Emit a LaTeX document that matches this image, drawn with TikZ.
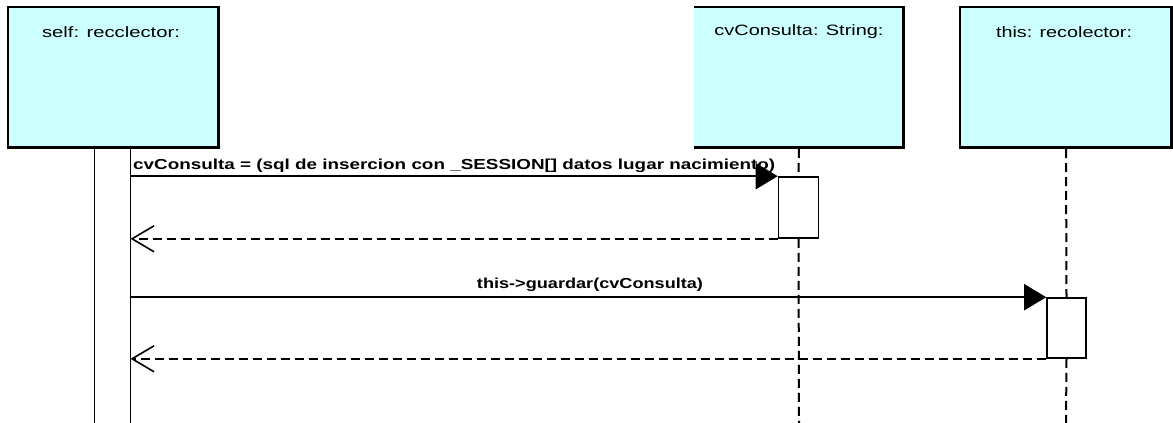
\documentclass[tikz,border=0pt]{standalone}
\usepackage{fontspec}
\setmainfont{Liberation Sans}
\usetikzlibrary{arrows.meta}
\definecolor{headfill}{HTML}{CCFFFF}
% fit a text to a given width, keeping its height
\newcommand\fitto[2]{\resizebox{#1}{\height}{#2}}
\begin{document}
\begin{tikzpicture}[x=1pt,y=-1pt,
  actbar/.style={draw=black,line width=1.6pt,fill=white,inner sep=0pt,minimum width=0pt},
  lifeline/.style={line width=2pt,dash pattern=on 9pt off 5pt},
  call/.style={line width=2pt,-{Triangle[length=22pt,width=26pt]}},
  reply/.style={line width=2pt,dash pattern=on 9pt off 5pt,-{Straight Barb[length=22pt,width=26pt,line width=1.6pt]}},
  headtxt/.style={font=\fontsize{15}{17}\selectfont,inner sep=0pt},
  msgtxt/.style={font=\fontsize{14.5}{16}\selectfont\bfseries,inner sep=0pt}]
\useasboundingbox (0,0) rectangle (1173,423);
\fill[white] (0,0) rectangle (1173,423);

% object heads (right and bottom edges carry a small shadow)
\fill[headfill] (8,7) rectangle (218,146);
\draw[line width=2pt] (8,146) -- (8,7) -- (218,7);
\draw[line width=3.5pt] (218.5,6) -- (218.5,147.5) -- (7,147.5);
\coordinate (h1) at (113,147);

\fill[headfill] (694,7) rectangle (903,146);
\draw[line width=2pt] (694,7) -- (903,7);
\draw[line width=3.5pt] (903.5,6) -- (903.5,147.5) -- (694,147.5);
\coordinate (h2) at (799,149);

\fill[headfill] (960,7) rectangle (1171,146);
\draw[line width=2pt] (960,146) -- (960,7) -- (1171,7);
\draw[line width=3.5pt] (1171.5,6) -- (1171.5,147.5) -- (959,147.5);
\coordinate (h3) at (1066,149);

\node[headtxt] (t1) at (111,32) {\fitto{138pt}{self: recclector:}};
\node[headtxt] (t2) at (799,32) {\fitto{169pt}{cvConsulta: String:}};
\node[headtxt] (t3) at (1064,32) {\fitto{136pt}{this: recolector:}};

% activation bars
\draw[line width=1.8pt] (94.5,149) -- (94.5,423) (130.5,149) -- (130.5,423);
\coordinate (a1top) at (130.5,149);
\node[actbar,minimum width=40pt,minimum height=61pt] (a2) at (798.5,207.5) {};
\node[actbar,minimum width=39pt,minimum height=60pt] (a3) at (1066.5,328) {};

% lifelines
\coordinate (e2) at (799,423);
\coordinate (e3) at (1066,423);
\draw[lifeline] (h2) -- (a2.north);
\draw[lifeline] (a2.south) -- (e2);
\draw[lifeline] (h3) -- (a3.north);
\draw[lifeline] (a3.south) -- (e3);

% messages
\draw[call] (a1top |- a2.north west) -- (a2.north west);
\draw[reply] (a2.south west) -- (a1top |- a2.south west);
\draw[call] (a1top |- a3.north west) -- (a3.north west);
\draw[reply] (a3.south west) -- (a1top |- a3.south west);

\node[msgtxt,anchor=base west] (m1) at (133,169)
  {\fitto{642pt}{cvConsulta = (sql de insercion con \_SESSION[] datos lugar nacimiento)}};
\node[msgtxt,anchor=base] (m2) at (590,288) {\fitto{226pt}{this->guardar(cvConsulta)}};
\end{tikzpicture}
\end{document}
